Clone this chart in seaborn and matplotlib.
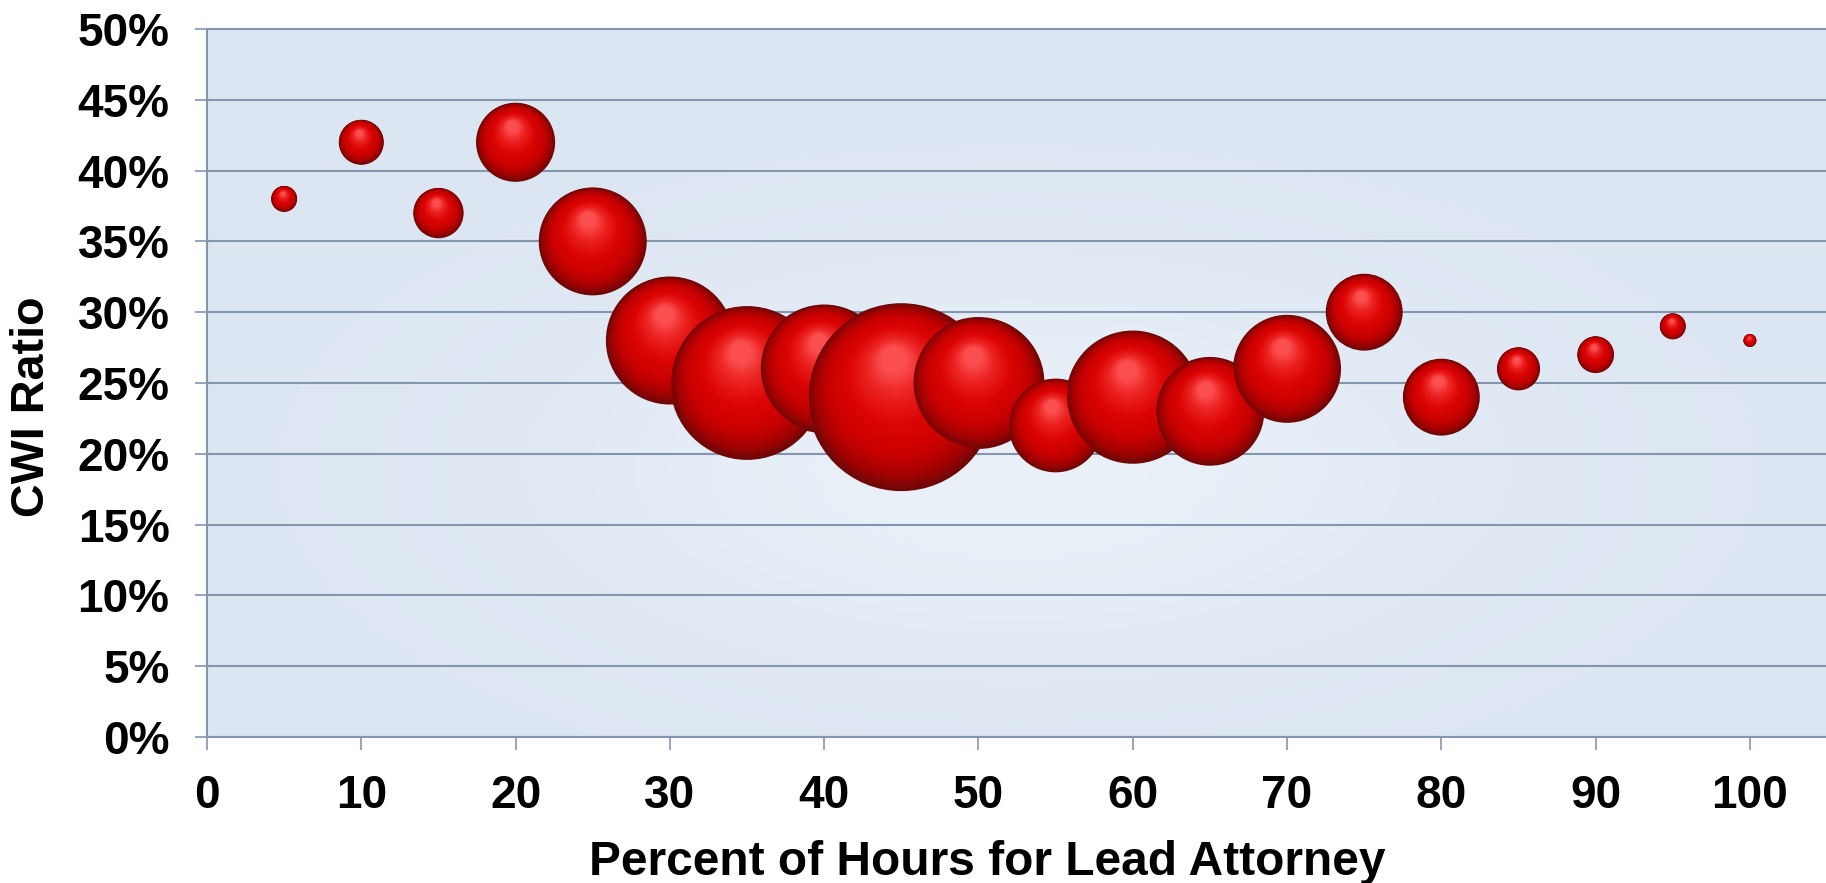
import numpy as np
import pandas as pd
import matplotlib
matplotlib.use("Agg")
import matplotlib.pyplot as plt
import seaborn as sns
from matplotlib.colors import LinearSegmentedColormap
from matplotlib.ticker import PercentFormatter

# ----------------------------
# Data: share of hours billed by the lead attorney vs CWI ratio
# ----------------------------
pct_hours = [5, 10, 15, 20, 25, 30, 35, 40, 45, 50,
             55, 60, 65, 70, 75, 80, 85, 90, 95, 100]
cwi_ratio = [0.38, 0.42, 0.37, 0.42, 0.35, 0.28, 0.25, 0.26, 0.24, 0.25,
             0.22, 0.24, 0.23, 0.26, 0.30, 0.24, 0.26, 0.27, 0.29, 0.28]
case_counts = [4, 12, 15, 37, 69, 97, 140, 98, 209, 103,
               52, 105, 70, 69, 35, 35, 11, 8, 4, 1]
x_ticks = [0, 10, 20, 30, 40, 50, 60, 70, 80, 90, 100]
y_ticks = [0, 0.05, 0.10, 0.15, 0.20, 0.25, 0.30, 0.35, 0.40, 0.45, 0.50]

df = pd.DataFrame({"hours": pct_hours, "cwi": cwi_ratio, "cases": case_counts})

sns.set_theme(style="white")
plt.rcParams["font.family"] = ["Liberation Sans", "DejaVu Sans"]
plt.rcParams["font.weight"] = "bold"
plt.rcParams["axes.labelweight"] = "bold"

grid_col = "#8495b0"
DPI = 100
fig = plt.figure(figsize=(18.26, 8.83), dpi=DPI)
ax = fig.add_axes([207 / 1826, 146 / 883, 1619 / 1826, 708 / 883])
ax.set_facecolor("#dce6f2")

# soft light glow in the middle of the plot area
gx, gy = np.meshgrid(np.linspace(0, 1, 300), np.linspace(0, 1, 200))
glow = np.zeros((200, 300, 4))
glow[..., :3] = [0.95, 0.97, 0.99]
glow[..., 3] = 0.65 * np.exp(-((gx - 0.5) ** 2 / (2 * 0.2 ** 2) + (gy - 0.38) ** 2 / (2 * 0.2 ** 2)))
ax.imshow(glow, extent=(0, 1, 0, 1), transform=ax.transAxes, origin="lower",
          aspect="auto", zorder=0, interpolation="bilinear")

ax.set_xlim(0, 104.93)
ax.set_ylim(0, 0.5)

# area proportional to case count
k = 87.6
sizes = (k * min(case_counts), k * max(case_counts))
sns.scatterplot(data=df, x="hours", y="cwi", size="cases", sizes=sizes,
                size_norm=(min(case_counts), max(case_counts)),
                color="#6e0808", linewidth=0, legend=False, ax=ax, zorder=2)

# shade each bubble like a glossy sphere
sphere = LinearSegmentedColormap.from_list("sphere", [
    (0.0, "#6e0808"), (0.1, "#9e0202"), (0.28, "#c80000"),
    (0.55, "#dc0404"), (0.8, "#ec2222"), (1.0, "#fb4e4e")])
n_layers = 40
t = np.linspace(0.02, 1, n_layers)
shrink = 1 - 0.86 * t
trans = ax.transData
centers = trans.transform(np.column_stack([pct_hours, cwi_ratio]))
for i, cnt in enumerate(case_counts):
    s = k * cnt
    r_px = np.sqrt(s) / 2 * DPI / 72
    lx = centers[i, 0] - 0.08 * r_px * t
    ly = centers[i, 1] + 0.40 * r_px * t
    pts = trans.inverted().transform(np.column_stack([lx, ly]))
    ax.scatter(pts[:, 0], pts[:, 1], s=s * shrink ** 2, c=sphere(t),
               linewidths=0, zorder=3 + i)

ax.set_xticks(x_ticks)
ax.set_yticks(y_ticks)
ax.yaxis.set_major_formatter(PercentFormatter(1.0, decimals=0))
ax.grid(axis="y", color=grid_col, linewidth=1.5, zorder=1)
ax.grid(axis="x", visible=False)
ax.set_axisbelow(True)
for side in ["left", "bottom", "top"]:
    ax.spines[side].set_color(grid_col)
    ax.spines[side].set_linewidth(1.5)
ax.spines["right"].set_visible(False)
ax.tick_params(axis="both", direction="out", length=9, width=1.2, color=grid_col,
               labelsize=33, labelcolor="black")
ax.tick_params(axis="x", bottom=True, pad=18)
ax.tick_params(axis="y", left=True, pad=18)

ax.set_xlabel("Percent of Hours for Lead Attorney", fontsize=34.5, va="center", color="black")
ax.set_ylabel("CWI Ratio", fontsize=33.7, va="center", color="black")
ax.xaxis.set_label_coords(0.482, -0.177)
ax.yaxis.set_label_coords(-0.108, 0.466)

fig.savefig("out.png", dpi=DPI)
